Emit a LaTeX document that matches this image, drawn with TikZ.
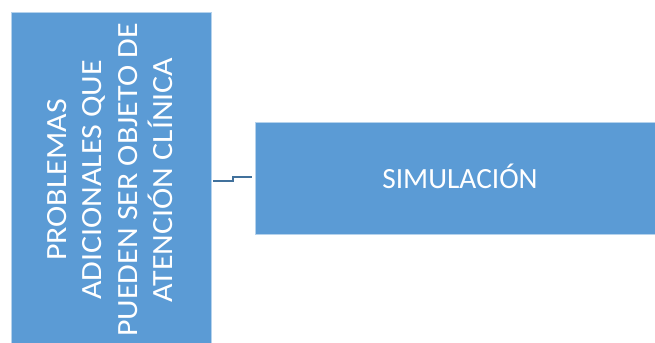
\documentclass[tikz,border=0pt]{standalone}
\usepackage{fontspec}
\setmainfont{Carlito}
\definecolor{boxblue}{HTML}{5B9BD5}
\definecolor{linkblue}{HTML}{41719C}
\begin{document}
\begin{tikzpicture}[x=0.75pt,y=-0.75pt,
  bluebox/.style={rectangle, fill=boxblue, draw=white!55!boxblue, line width=0.6pt, inner sep=0pt},
  boxtext/.style={text=white, font=\fontsize{22pt}{26.5pt}\selectfont, align=center, inner sep=0pt},
  conn/.style={draw=linkblue, line width=1.5pt}]
  \useasboundingbox (0,0) rectangle (655,342);
  \fill[white] (0,0) rectangle (655,342);
  % left vertical box with rotated caption
  \node[bluebox, minimum width=150pt, minimum height=251pt] (L) at (111,180) {};
  \node[boxtext, rotate=90, xscale=1.09, transform shape] (Lt) at (110,180) {PROBLEMAS\\ADICIONALES QUE\\PUEDEN SER OBJETO DE\\ATENCIÓN CLÍNICA};
  % right horizontal box
  \node[bluebox, minimum width=307.5pt, minimum height=84pt] (R) at (460,178) {};
  \node[boxtext] (Rt) at (460,176) {SIMULACIÓN};
  % stepped connector between the boxes
  \coordinate (j1) at (233,181);
  \coordinate (j2) at (233,177);
  \draw[conn] ([xshift=1.5pt]L.east |- j1) -- (j1) -- (j2) -- ([xshift=-2pt]R.west |- j2);
\end{tikzpicture}
\end{document}
